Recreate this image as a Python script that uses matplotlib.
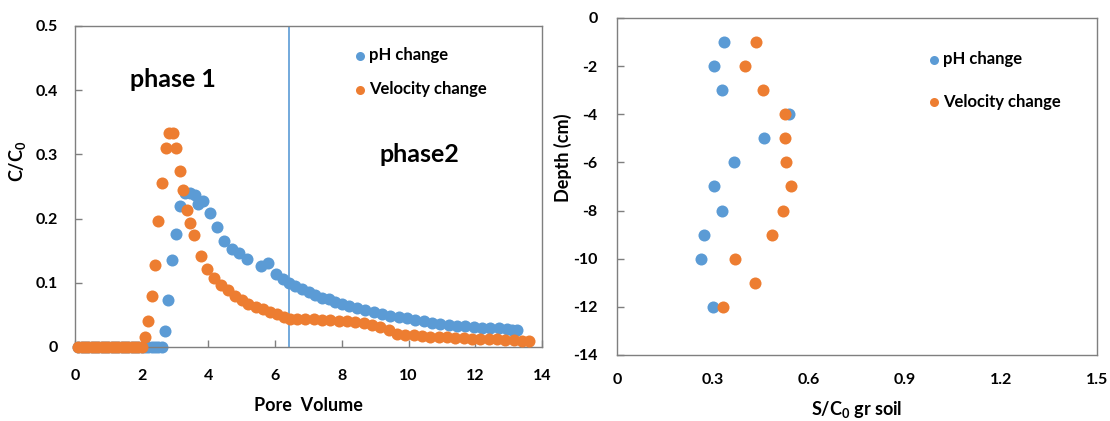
import matplotlib
matplotlib.use("Agg")
from matplotlib import pyplot

pyplot.rcParams["font.family"] = ["Lato", "DejaVu Sans"]
pyplot.rcParams["font.weight"] = "bold"

BLUE = "#5B9BD5"
ORANGE = "#ED7D31"

# left panel: breakthrough curves (pore volume vs C/C0)
ph_pv = [0.1, 0.2, 0.3, 0.4, 0.5, 0.6, 0.7, 0.8, 0.9, 1.0, 1.1, 1.2, 1.3,
         1.4, 1.5, 1.6, 1.7, 1.8, 1.9, 2.0, 2.1, 2.2, 2.3, 2.4, 2.5, 2.6,
         2.7, 2.8, 2.91, 3.02, 3.15, 3.3, 3.45, 3.6, 3.7, 3.83, 4.05, 4.25,
         4.47, 4.7, 4.93, 5.15, 5.58, 5.8, 6.03, 6.23, 6.4, 6.6, 6.8, 7.0,
         7.2, 7.4, 7.6, 7.8, 8.0, 8.2, 8.45, 8.7, 8.95, 9.2, 9.45, 9.7, 9.95,
         10.2, 10.45, 10.7, 10.95, 11.2, 11.45, 11.7, 11.95, 12.2, 12.45,
         12.7, 12.95, 13.1, 13.25]
ph_c = [0.0, 0.0, 0.0, 0.0, 0.0, 0.0, 0.0, 0.0, 0.0, 0.0, 0.0, 0.0, 0.0,
        0.0, 0.0, 0.0, 0.0, 0.0, 0.0, 0.0, 0.0, 0.0, 0.0, 0.0, 0.0, 0.0,
        0.025, 0.073, 0.136, 0.176, 0.219, 0.240, 0.240, 0.236, 0.222, 0.228,
        0.209, 0.187, 0.165, 0.152, 0.146, 0.137, 0.126, 0.131, 0.114, 0.106,
        0.100, 0.095, 0.090, 0.085, 0.081, 0.077, 0.074, 0.070, 0.067, 0.064,
        0.061, 0.058, 0.055, 0.052, 0.049, 0.047, 0.045, 0.042, 0.040, 0.038,
        0.036, 0.034, 0.033, 0.032, 0.031, 0.030, 0.029, 0.029, 0.028, 0.027,
        0.027]

vel_pv = [0.1, 0.2, 0.3, 0.4, 0.5, 0.6, 0.7, 0.8, 0.9, 1.0, 1.1, 1.2, 1.3,
          1.4, 1.5, 1.6, 1.7, 1.8, 1.9, 2.0, 2.1, 2.2, 2.3, 2.4, 2.5, 2.6,
          2.72, 2.82, 2.93, 3.03, 3.15, 3.25, 3.35, 3.45, 3.57, 3.77, 3.96,
          4.17, 4.38, 4.6, 4.8, 5.0, 5.2, 5.43, 5.64, 5.85, 6.06, 6.26, 6.45,
          6.65, 6.9, 7.15, 7.4, 7.65, 7.9, 8.15, 8.4, 8.65, 8.9, 9.15, 9.4,
          9.65, 9.9, 10.15, 10.4, 10.65, 10.9, 11.15, 11.4, 11.65, 11.9,
          12.15, 12.4, 12.65, 12.9, 13.15, 13.4, 13.6]
vel_c = [0.0, 0.0, 0.0, 0.0, 0.0, 0.0, 0.0, 0.0, 0.0, 0.0, 0.0, 0.0, 0.0,
         0.0, 0.0, 0.0, 0.0, 0.0, 0.0, 0.0, 0.015, 0.041, 0.079, 0.127, 0.196,
         0.256, 0.310, 0.333, 0.333, 0.310, 0.274, 0.245, 0.214, 0.193, 0.174,
         0.142, 0.121, 0.108, 0.096, 0.088, 0.080, 0.073, 0.067, 0.063, 0.059,
         0.055, 0.052, 0.046, 0.043, 0.043, 0.043, 0.043, 0.042, 0.042, 0.041,
         0.040, 0.039, 0.037, 0.035, 0.031, 0.026, 0.021, 0.019, 0.018, 0.017,
         0.016, 0.015, 0.015, 0.014, 0.014, 0.013, 0.013, 0.012, 0.012, 0.011,
         0.011, 0.010, 0.010]

phase_split = 6.4

# right panel: retained mass profiles (S/C0 vs depth)
ph_s = [0.334, 0.303, 0.327, 0.538, 0.459, 0.367, 0.303, 0.327, 0.273,
        0.262, 0.299]
ph_depth = [-1, -2, -3, -4, -5, -6, -7, -8, -9, -10, -12]
vel_s = [0.434, 0.400, 0.455, 0.525, 0.525, 0.528, 0.544, 0.518, 0.484,
         0.369, 0.432, 0.330]
vel_depth = [-1, -2, -3, -4, -5, -6, -7, -8, -9, -10, -11, -12]

left_xticks = [0, 2, 4, 6, 8, 10, 12, 14]
left_yticks = [0, 0.1, 0.2, 0.3, 0.4, 0.5]
left_ylabels = ["0", "0.1", "0.2", "0.3", "0.4", "0.5"]
right_xticks = [0, 0.3, 0.6, 0.9, 1.2, 1.5]
right_xlabels = ["0", "0.3", "0.6", "0.9", "1.2", "1.5"]
right_yticks = [0, -2, -4, -6, -8, -10, -12, -14]
right_ylabels = ["0", "-2", "-4", "-6", "-8", "-10", "-12", "-14"]

fig = pyplot.figure(figsize=(11.1, 4.21), dpi=100)
ax1 = fig.add_axes([0.0676, 0.1758, 0.4207, 0.7625])
ax2 = fig.add_axes([0.5559, 0.1568, 0.4324, 0.8005])

for ax in (ax1, ax2):
    for sp in ax.spines.values():
        sp.set_color("#7f7f7f")
        sp.set_linewidth(1.0)

# left
ax1.axvline(phase_split, color=BLUE, lw=1.2, zorder=1)
ax1.scatter(ph_pv, ph_c, s=75, c=BLUE, lw=0, label="pH change", zorder=2, clip_on=False)
ax1.scatter(vel_pv, vel_c, s=75, c=ORANGE, lw=0, label="Velocity change", zorder=3, clip_on=False)
ax1.set_xlim(0, 14)
ax1.set_ylim(0, 0.5)
ax1.set_xticks(left_xticks)
ax1.set_yticks(left_yticks)
ax1.set_yticklabels(left_ylabels)
ax1.tick_params(axis="x", direction="in", length=5, width=1, color="#7f7f7f",
                labelsize=11.5, pad=16)
ax1.tick_params(axis="y", direction="in", length=5, width=1, color="#7f7f7f",
                labelsize=11.5, pad=12)
ax1.set_xlabel("Pore  Volume", fontsize=13, fontweight="bold")
ax1.xaxis.set_label_coords(0.5, -0.155)
ax1.set_ylabel("C/C$_\\mathregular{0}$", fontsize=13, fontweight="bold")
ax1.yaxis.set_label_coords(-0.10, 0.58)
ax1.text(1.65, 0.417, "phase 1", fontsize=18, fontweight="bold", va="center")
ax1.text(9.14, 0.30, "phase2", fontsize=18, fontweight="bold", va="center")
ax1.legend(loc="upper left", bbox_to_anchor=(0.575, 0.96), frameon=False,
           fontsize=12, handletextpad=0.05, labelspacing=1.1, borderpad=0,
           handlelength=1.0, markerscale=0.75)

# right
ax2.scatter(ph_s, ph_depth, s=75, c=BLUE, lw=0, label="pH change", zorder=2)
ax2.scatter(vel_s, vel_depth, s=75, c=ORANGE, lw=0, label="Velocity change", zorder=3)
ax2.set_xlim(0, 1.5)
ax2.set_ylim(-14, 0)
ax2.set_xticks(right_xticks)
ax2.set_xticklabels(right_xlabels)
ax2.set_yticks(right_yticks)
ax2.set_yticklabels(right_ylabels)
ax2.tick_params(axis="x", length=0, labelsize=11.5, pad=13)
ax2.tick_params(axis="y", direction="in", length=5, width=1, color="#7f7f7f",
                labelsize=11.5, pad=14)
ax2.set_xlabel("S/C$_\\mathregular{0}$ gr soil", fontsize=13, fontweight="bold")
ax2.xaxis.set_label_coords(0.5, -0.13)
ax2.set_ylabel("Depth (cm)", fontsize=13, fontweight="bold")
ax2.yaxis.set_label_coords(-0.094, 0.585)
ax2.legend(loc="upper left", bbox_to_anchor=(0.625, 0.927), frameon=False,
           fontsize=12, handletextpad=0.05, labelspacing=1.6, borderpad=0,
           handlelength=1.0, markerscale=0.75)

fig.savefig("out.png", dpi=100)
